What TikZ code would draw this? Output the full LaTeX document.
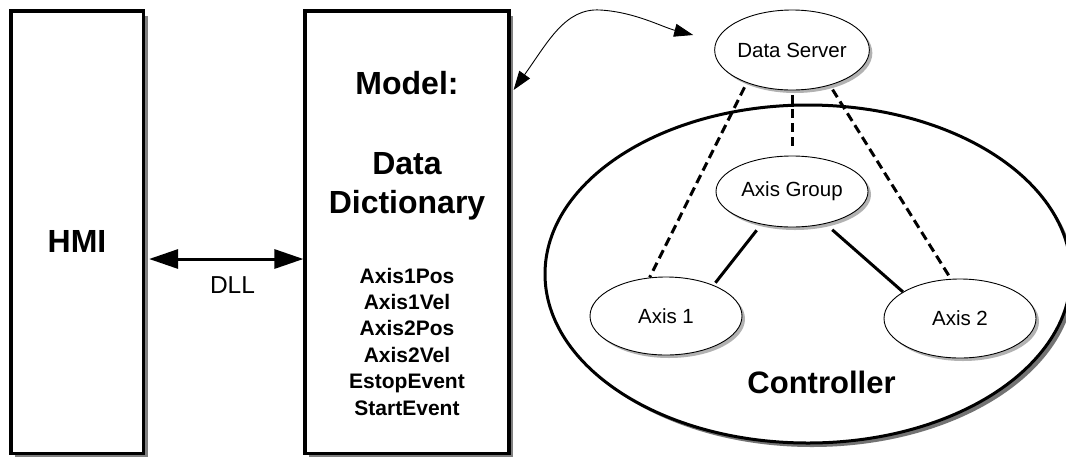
\documentclass[tikz,border=0pt]{standalone}
\usepackage{fontspec}
\setmainfont{Liberation Sans}
\usetikzlibrary{arrows.meta,shapes.geometric,shadows,calc}

\begin{document}
\begin{tikzpicture}[x=1pt,y=-1pt,
  box/.style={rectangle, draw, line width=3.2pt, fill=white, inner sep=0pt,
    general shadow={fill=black!50, shadow xshift=4pt, shadow yshift=-4.5pt}},
  oval/.style={ellipse, draw, line width=0.9pt, fill=white, inner sep=0pt,
    minimum width=152pt, minimum height=79pt,
    font=\fontsize{20.5}{24}\selectfont,
    general shadow={fill=black!30, shadow xshift=3pt, shadow yshift=-3pt}},
  ctrl/.style={ellipse, draw, line width=3pt, fill=white, inner sep=0pt,
    general shadow={fill=black!55, shadow xshift=4pt, shadow yshift=-4pt}},
  big/.style={font=\fontsize{32}{38}\selectfont\bfseries, anchor=base, inner sep=0pt},
  small/.style={font=\fontsize{21}{25}\selectfont\bfseries, anchor=base, inner sep=0pt},
  link/.style={line width=3pt},
  dlink/.style={line width=3pt, dash pattern=on 9pt off 5pt},
  dll/.style={line width=3pt,
    {Triangle[length=29pt,width=19pt]}-{Triangle[length=29pt,width=19pt]}},
  feed/.style={line width=0.9pt,
    {Triangle[length=19pt,width=13pt]}-{Triangle[length=19pt,width=13pt]}}
]
\fill[white] (0,0) rectangle (1066,456);
\useasboundingbox (0,0) rectangle (1066,456);
\clip (0,0) rectangle (1066,456);

% HMI and model boxes
\node[box, minimum width=132.5pt, minimum height=442.5pt] (hmi) at (77.25,232.25) {};
\node[box, minimum width=204pt, minimum height=442.5pt] (mdl) at (407,232.25) {};

\node[big] (hmilbl) at (77,252) {HMI};
\node[big] (mdlhead) at (407,94.5) {Model:};
\node[big] (ddata) at (407,174) {Data};
\node[big] (ddict) at (407,213.5) {Dictionary};
\node[small] (v1) at (407,283) {Axis1Pos};
\node[small] (v2) at (407,309.4) {Axis1Vel};
\node[small] (v3) at (407,335.8) {Axis2Pos};
\node[small] (v4) at (407,362.2) {Axis2Vel};
\node[small] (v5) at (407,388.6) {EstopEvent};
\node[small] (v6) at (407,415) {StartEvent};

% DLL link between HMI and model
\coordinate (dllrow) at (0,259);
\draw[dll] ($(hmi.east |- dllrow)+(4,0)$) -- (mdl.west |- dllrow);
\node[anchor=base, inner sep=0pt, font=\fontsize{24.5}{28}\selectfont] (dlllbl) at (232.5,293) {DLL};

% Controller and its objects
\node[ctrl, minimum width=526pt, minimum height=338pt] (ctl) at (808,274) {};
\node[font=\fontsize{31}{36}\selectfont\bfseries, anchor=base, inner sep=0pt] (ctllbl) at (821.5,393) {Controller};

\node[oval, minimum height=80pt] (ds) at (792,50) {Data Server};
\node[oval, minimum height=71pt] (ag) at (792,191.5) {Axis Group};
\node[oval, minimum height=78pt] (ax1) at (666,316) {Axis 1};
\node[oval] (ax2) at (960,318.5) {Axis 2};

\draw[dlink, shorten <=5pt] (ds.216) -- (ax1.113);
\draw[dlink, shorten <=5pt, shorten >=6pt] (ds.south) -- (ag.north);
\draw[dlink, shorten <=5pt] (ds.-43) -- (ax2.103);
\draw[link, shorten <=7.5pt, shorten >=3pt] (ag.227) -- (ax1.33);
\draw[link, shorten <=9pt] (ag.-44) -- (ax2.155);

% Model <-> data server exchange
\coordinate (feedy) at (0,90);
\coordinate (dsgap) at ($(ds.west)+(-21,-15)$);
\draw[feed] ($(mdl.east |- feedy)+(3,0)$) .. controls (548,42) and (565,8) .. (600,10)
  .. controls (635,12) and (662,27) .. (dsgap);
\end{tikzpicture}
\end{document}
